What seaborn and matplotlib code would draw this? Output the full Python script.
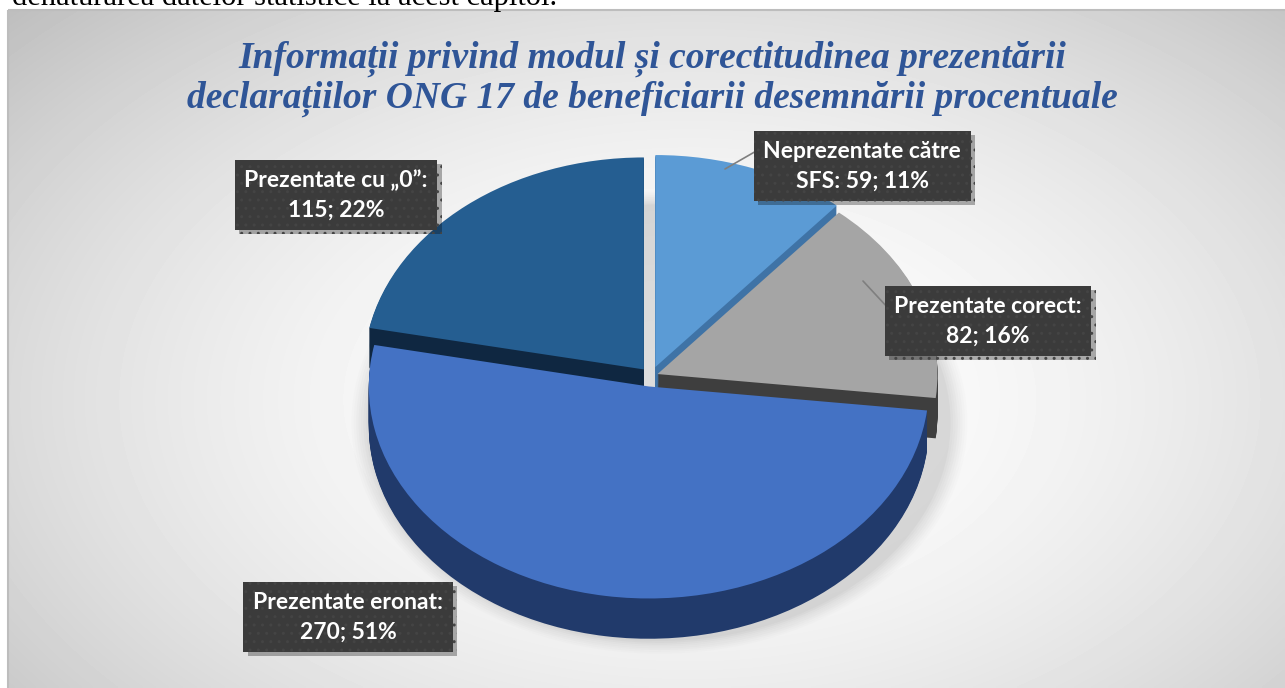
import numpy as np
import matplotlib
matplotlib.use("Agg")
import matplotlib.pyplot as plt
import seaborn as sns
from matplotlib import patheffects as pe
from matplotlib.patches import Ellipse, Rectangle

# ---------------- data ----------------
categories = ["Neprezentate către SFS", "Prezentate corect", "Prezentate eronat", "Prezentate cu „0”"]
values = [59, 82, 270, 115]
percents = [11, 16, 51, 22]
label_lines = [("Neprezentate către", "SFS: 59; 11%"),
               ("Prezentate corect:", "82; 16%"),
               ("Prezentate eronat:", "270; 51%"),
               ("Prezentate cu „0”:", "115; 22%")]
title_lines = ["Informații privind modul și corectitudinea prezentării",
               "declarațiilor ONG 17 de beneficiarii desemnării procentuale"]
doc_text = "denaturarea datelor statistice la acest capitol."

# ---------------- style ----------------
sns.set_theme(style="white")
top_colors = sns.color_palette(["#5b9bd5", "#a5a5a5", "#4472c4", "#255e91"])
side_colors = sns.color_palette(["#3f73a6", "#3e3e3e", "#213a6b", "#0f2741"])
explode = [0.045, 0.025, 0.05, 0.04]

W, H = 1285, 688
fig = plt.figure(figsize=(W / 100, H / 100), dpi=100)
fig.patch.set_facecolor("white")

# background axes in image pixel coordinates
bg = fig.add_axes([0, 0, 1, 1], zorder=0)
bg.set_xlim(0, W)
bg.set_ylim(H, 0)
bg.axis("off")
x0, y0 = 8, 10
xx, yy = np.meshgrid(np.linspace(x0, W, 400), np.linspace(y0, H, 220))
r = np.sqrt(((xx - 690) / 700) ** 2 + ((yy - 400) / 430) ** 2)
grad = 1 - 0.25 * (r / 1.32) ** 1.8
bg.imshow(grad, cmap="gray", vmin=0, vmax=1, extent=[x0, W, H, y0],
          interpolation="bilinear", aspect="auto", zorder=0)
bg.add_patch(Rectangle((x0, y0), W - x0 + 5, H - y0 + 5, fill=False,
                       ec="#bdbdbd", lw=1.5, zorder=1))
bg.text(12, 5, doc_text, family="Liberation Serif", fontsize=22,
        color="black", va="baseline", ha="left", zorder=2)

# title
for i, line in enumerate(title_lines):
    bg.text(652, 59 + 40 * i, line, family="Liberation Serif", fontsize=27,
            fontweight="bold", fontstyle="italic", color="#2f5597",
            ha="center", va="center", zorder=2)

# ---------------- pie axes (elliptical, pseudo-3D) ----------------
cx, cy = 651, 376      # centre in image px
rx, ry = 280, 212      # radii in px
L = 1.5
pw, ph = 2 * L * rx, 2 * L * ry
ax = fig.add_axes([(cx - pw / 2) / W, (H - cy - ph / 2) / H, pw / W, ph / H], zorder=1)
ax.patch.set_alpha(0)

depth = 0.19
# soft shadow under the pie
for k, a in zip(np.linspace(0.0, 0.12, 8), np.linspace(0.05, 0.02, 8)):
    ax.add_patch(Ellipse((0.03, -depth - 0.03), 2.08 + k, 2.06 + k,
                         fc="#808080", alpha=a, lw=0, zorder=0))

for k in np.linspace(depth, 0.005, 38):
    ax.pie(values, colors=side_colors, explode=explode, startangle=90,
           counterclock=False, center=(0, -k),
           wedgeprops=dict(linewidth=0, antialiased=True))
ax.pie(values, colors=top_colors, explode=explode, startangle=90,
       counterclock=False, center=(0, 0),
       wedgeprops=dict(linewidth=0, antialiased=True))
ax.set_aspect("auto")
ax.set_xlim(-L, L)
ax.set_ylim(-L, L)
ax.axis("off")

# ---------------- labels overlay ----------------
ov = fig.add_axes([0, 0, 1, 1], zorder=2)
ov.set_xlim(0, W)
ov.set_ylim(H, 0)
ov.axis("off")
ov.patch.set_alpha(0)

label_pos = [(862, 166), (988, 321), (348, 617), (336, 195)]
for (l1, l2), (lx, ly) in zip(label_lines, label_pos):
    t = ov.text(lx, ly, l1 + "\n" + l2, family="Lato", fontweight="bold",
                fontsize=16.5, color="white", ha="center", va="center",
                linespacing=1.5, zorder=5,
                bbox=dict(boxstyle="square,pad=0.42", fc="#3b3b3b", ec="#444444",
                          lw=0, hatch=".."))
    t.get_bbox_patch().set_path_effects(
        [pe.SimplePatchShadow(offset=(3, -3), shadow_rgbFace="black", alpha=0.3), pe.Normal()])

ov.plot([769, 758, 725], [150, 150, 169], color="#7f7f7f", lw=1.2, zorder=4)
ov.plot([899, 889, 863], [309, 309, 281], color="#7f7f7f", lw=1.2, zorder=4)

fig.savefig("out.png", dpi=100)
